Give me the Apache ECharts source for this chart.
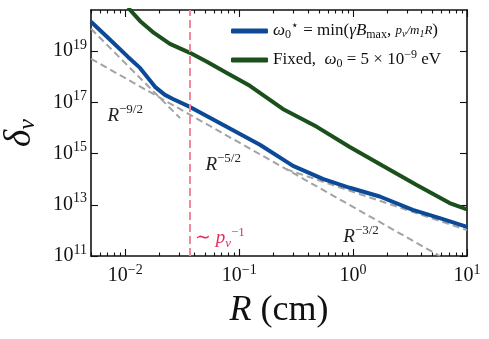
<!DOCTYPE html>
<html>
<head>
<meta charset="utf-8">
<script src="https://cdn.jsdelivr.net/npm/echarts@6/dist/echarts.min.js"></script>
<style>
  html, body { margin: 0; padding: 0; background: #fff; }
  #chart { width: 489px; height: 339px; }
</style>
</head>
<body>
<div id="chart"></div>
<script>
// values: R in cm, delta_nu
const blueR = [0.005, 0.00705, 0.01057, 0.01346, 0.01824, 0.0223, 0.0262, 0.03696, 0.07194, 0.152, 0.297, 0.542, 0.9354, 1.714, 3.342, 5.764, 10];
const blueD = [1.4e20, 3.3e19, 5.9e18, 2.2e18, 4.0e17, 1.95e17, 1.35e17, 6.6e16, 1.32e16, 2.2e15, 3.3e14, 1.02e14, 4.6e13, 2.1e13, 6.3e12, 3.0e12, 1.38e12];

const greenR = [0.01057, 0.01346, 0.01786, 0.02466, 0.03696, 0.05212, 0.078, 0.1241, 0.2415, 0.4805, 0.935, 1.819, 3.614, 7.04, 10];
const greenD = [4.9e20, 1.5e20, 5.1e19, 1.9e19, 8.5e18, 3.8e18, 1.4e18, 4.4e17, 5.5e16, 1.1e16, 1.8e15, 3.3e14, 5.9e13, 1.17e13, 6.6e12];

// power-law guides (end points)
const guide92R = [0.005, 0.0303];
const guide92D = [7.4e19, 2.4e16];
const guide52R = [0.005, 5.77];
const guide52D = [5.0e18, 1e11];
const guide32R = [0.257, 10];
const guide32D = [2.45e14, 1.02e12];

// vertical marker ~ 1/p_nu
const pnuR = [0.037, 0.037];
const pnuD = [1e11, 4e20];

const xMajor = [0.01, 0.1, 1, 10];
const xMinor = [0.005, 0.006, 0.007, 0.008, 0.009, 0.02, 0.03, 0.04, 0.05, 0.06, 0.07, 0.08, 0.09,
  0.2, 0.3, 0.4, 0.5, 0.6, 0.7, 0.8, 0.9, 2, 3, 4, 5, 6, 7, 8, 9];
const yMajor = [1e11, 1e13, 1e15, 1e17, 1e19];

const serif = "'Liberation Serif', 'DejaVu Serif', serif";
const ink = '#111';

function zip(a, b) {
  return a.map((v, i) => [v, b[i]]);
}
function powLabel(v) {
  const e = Math.round(Math.log10(v));
  return '{b|10}{s|' + String(e).replace('-', '\u2212') + '}';
}
const tickRich = {
  b: { fontFamily: serif, fontSize: 20, color: ink },
  s: { fontFamily: serif, fontSize: 14, color: ink, padding: [0, 0, 12, 0] }
};
const noteRich = {
  i: { fontFamily: serif, fontSize: 19, fontStyle: 'italic', color: '#222' },
  s: { fontFamily: serif, fontSize: 13, color: '#222', padding: [0, 0, 12, 0] },
  pr: { fontFamily: serif, fontSize: 19, color: '#e0305e' },
  pi: { fontFamily: serif, fontSize: 19, fontStyle: 'italic', color: '#e0305e' },
  psb: { fontFamily: serif, fontSize: 13, fontStyle: 'italic', color: '#e0305e', padding: [10, 0, 0, 0] },
  psp: { fontFamily: serif, fontSize: 13, color: '#e0305e', padding: [0, 0, 12, 0] }
};

function xAxisDef(pos, ticks, len, withLabels, withLine) {
  return {
    type: 'log', logBase: 10, min: 0.005, max: 10, position: pos,
    axisLine: { show: withLine, lineStyle: { color: ink, width: 1.6 } },
    axisTick: { show: true, inside: true, length: len, customValues: ticks, lineStyle: { color: ink, width: 1.1 } },
    axisLabel: withLabels
      ? { show: true, customValues: xMajor, margin: 7, formatter: powLabel, rich: tickRich }
      : { show: false },
    splitLine: { show: false }
  };
}
function yAxisDef(pos, withLabels) {
  return {
    type: 'log', logBase: 10, min: 1e11, max: 4e20, position: pos,
    axisLine: { show: true, lineStyle: { color: ink, width: 1.6 } },
    axisTick: { show: true, inside: true, length: 7, customValues: yMajor, lineStyle: { color: ink, width: 1.1 } },
    axisLabel: withLabels
      ? { show: true, customValues: yMajor, margin: 4, formatter: powLabel, rich: tickRich }
      : { show: false },
    splitLine: { show: false }
  };
}

const chart = echarts.init(document.getElementById('chart'));

const bottomMajor = xAxisDef('bottom', xMajor, 7, true, true);
bottomMajor.name = '{i|R}{n| (cm)}';
bottomMajor.nameLocation = 'middle';
bottomMajor.nameGap = 37;
bottomMajor.nameTextStyle = {
  rich: {
    i: { fontFamily: serif, fontSize: 36, fontStyle: 'italic', color: ink },
    n: { fontFamily: serif, fontSize: 36, color: ink }
  }
};
const leftAxis = yAxisDef('left', true);
leftAxis.name = '{d|\u03b4}{v|\u03bd}';
leftAxis.nameLocation = 'middle';
leftAxis.nameGap = 51;
leftAxis.nameTextStyle = {
  rich: {
    d: { fontFamily: serif, fontSize: 37, fontStyle: 'italic', color: ink },
    v: { fontFamily: serif, fontSize: 24, fontStyle: 'italic', color: ink, padding: [15, 0, 0, 0] }
  }
};

const guideStyle = { color: '#a3a3a3', width: 2, type: [7, 4] };

const option = {
  backgroundColor: '#fff',
  animation: false,
  grid: { left: 91, right: 22, top: 10, bottom: 83, outerBoundsMode: 'none' },
  legend: {
    data: ['opt', 'fixed'],
    orient: 'vertical',
    left: 226,
    top: 15,
    itemWidth: 37,
    itemHeight: 5,
    itemGap: 8,
    icon: 'roundRect',
    formatter: name => name === 'opt'
      ? '{i|\u03c9}{sb|0}{sp|\u22c6}{r| = min(}{i|\u03b3B}{sb|max}{r|, }{f|p}{fs|\u03bd}{f|/m}{fs|1}{f|R}{r|)}'
      : '{r|Fixed,  }{i|\u03c9}{sb|0}{r| = 5 \u00d7 10}{sp|\u22129}{r| eV}',
    textStyle: {
      rich: {
        r: { fontFamily: serif, fontSize: 17, color: ink },
        i: { fontFamily: serif, fontSize: 17, fontStyle: 'italic', color: ink },
        sb: { fontFamily: serif, fontSize: 12, color: ink, padding: [8, 0, 0, 0] },
        sp: { fontFamily: serif, fontSize: 12, color: ink, padding: [0, 0, 10, 0] },
        f: { fontFamily: serif, fontSize: 13, fontStyle: 'italic', color: ink },
        fs: { fontFamily: serif, fontSize: 10, fontStyle: 'italic', color: ink, padding: [6, 0, 0, 0] }
      }
    }
  },
  xAxis: [
    bottomMajor,
    xAxisDef('bottom', xMinor, 3.5, false, false),
    xAxisDef('top', xMajor, 7, false, true),
    xAxisDef('top', xMinor, 3.5, false, false)
  ],
  yAxis: [leftAxis, yAxisDef('right', false)],
  series: [
    {
      name: 'g92', type: 'line', showSymbol: false, silent: true,
      data: zip(guide92R, guide92D), lineStyle: guideStyle,
      markPoint: {
        symbol: 'circle', symbolSize: 1, itemStyle: { color: 'rgba(0,0,0,0)' },
        label: { show: true, position: 'right', distance: 0, rich: noteRich },
        data: [{ coord: [0.0069, 3.0e16], label: { formatter: '{i|R}{s|\u22129/2}' } }]
      }
    },
    {
      name: 'g52', type: 'line', showSymbol: false, silent: true,
      data: zip(guide52R, guide52D), lineStyle: guideStyle,
      markPoint: {
        symbol: 'circle', symbolSize: 1, itemStyle: { color: 'rgba(0,0,0,0)' },
        label: { show: true, position: 'right', distance: 0, rich: noteRich },
        data: [{ coord: [0.05, 3.7e14], label: { formatter: '{i|R}{s|\u22125/2}' } }]
      }
    },
    {
      name: 'g32', type: 'line', showSymbol: false, silent: true,
      data: zip(guide32R, guide32D), lineStyle: guideStyle,
      markPoint: {
        symbol: 'circle', symbolSize: 1, itemStyle: { color: 'rgba(0,0,0,0)' },
        label: { show: true, position: 'right', distance: 0, rich: noteRich },
        data: [
          { coord: [0.812, 5.5e11], label: { formatter: '{i|R}{s|\u22123/2}' } },
          { coord: [0.0405, 5.0e11], label: { formatter: '{pr|\u223c }{pi|p}{psb|\u03bd}{psp|\u22121}' } }
        ]
      }
    },
    {
      name: 'opt', type: 'line', showSymbol: false,
      data: zip(blueR, blueD),
      itemStyle: { color: '#0c4a98' },
      lineStyle: { color: '#0c4a98', width: 4 }
    },
    {
      name: 'fixed', type: 'line', showSymbol: false,
      data: zip(greenR, greenD),
      itemStyle: { color: '#1b4f1b' },
      lineStyle: { color: '#1b4f1b', width: 4 }
    },
    {
      name: 'pnu', type: 'line', showSymbol: false, silent: true,
      data: zip(pnuR, pnuD),
      lineStyle: { color: '#f0899c', width: 2, type: [8, 4] }
    }
  ]
};

chart.setOption(option);
</script>
</body>
</html>
